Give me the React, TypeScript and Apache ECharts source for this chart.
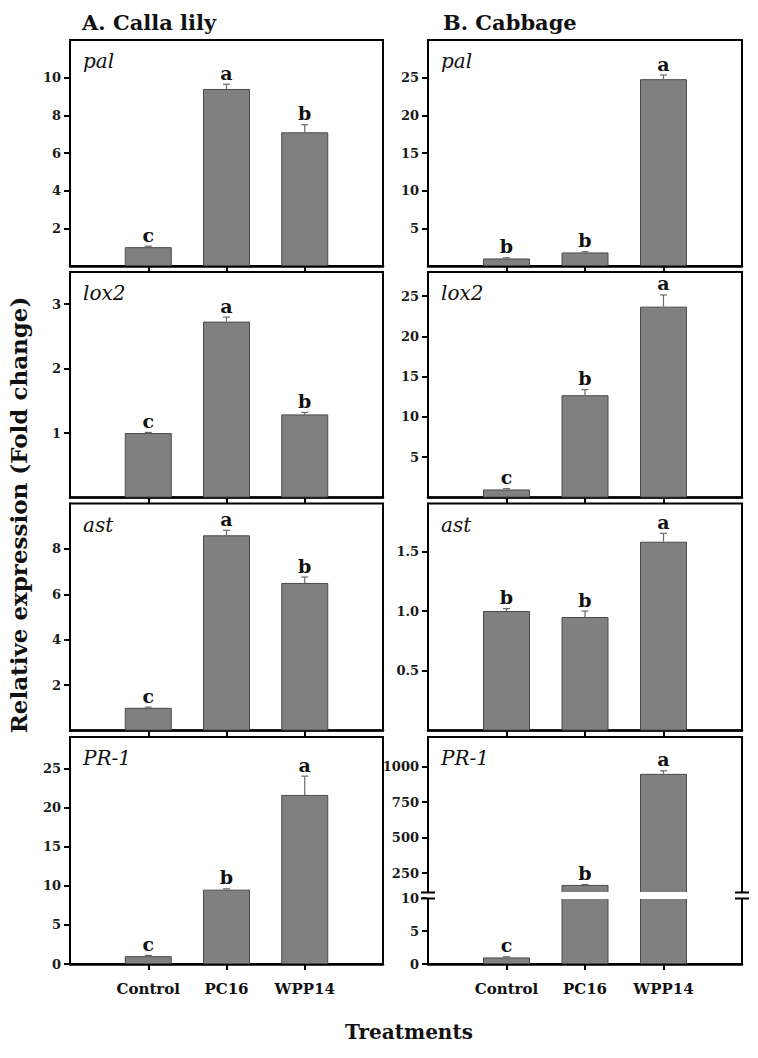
import React, { useEffect, useRef } from "react";
import * as echarts from "echarts";

// ---------- data ----------
const categories = ["Control", "PC16", "WPP14"];

const callaPalMean = [1.0, 9.4, 7.1];
const callaPalErr = [0.05, 0.25, 0.4];
const callaPalLetters = ["c", "a", "b"];
const callaPalTicks = [2, 4, 6, 8, 10];

const callaLoxMean = [1.0, 2.73, 1.29];
const callaLoxErr = [0.01, 0.07, 0.03];
const callaLoxLetters = ["c", "a", "b"];
const callaLoxTicks = [1, 2, 3];

const callaAstMean = [1.0, 8.6, 6.5];
const callaAstErr = [0.03, 0.22, 0.26];
const callaAstLetters = ["c", "a", "b"];
const callaAstTicks = [2, 4, 6, 8];

const callaPrMean = [1.0, 9.5, 21.6];
const callaPrErr = [0.1, 0.1, 2.4];
const callaPrLetters = ["c", "b", "a"];
const callaPrTicks = [0, 5, 10, 15, 20, 25];

const cabPalMean = [1.0, 1.8, 24.8];
const cabPalErr = [0.1, 0.1, 0.55];
const cabPalLetters = ["b", "b", "a"];
const cabPalTicks = [5, 10, 15, 20, 25];

const cabLoxMean = [1.0, 12.7, 23.7];
const cabLoxErr = [0.1, 0.7, 1.45];
const cabLoxLetters = ["c", "b", "a"];
const cabLoxTicks = [5, 10, 15, 20, 25];

const cabAstMean = [1.0, 0.95, 1.58];
const cabAstErr = [0.02, 0.05, 0.07];
const cabAstLetters = ["b", "b", "a"];
const cabAstTicks = [0.5, 1.0, 1.5];

const cabPrMean = [1.0, 167, 950];
const cabPrErr = [0.1, 3, 22];
const cabPrLetters = ["c", "b", "a"];
const cabPrLowTicks = [0, 5, 10];
const cabPrHighTicks = [250, 500, 750, 1000];

// ---------- layout ----------
const FONT = "DejaVu Serif";
const COLS = [
  { left: 70, width: 313 },
  { left: 428, width: 314 },
];
const ROWS = [
  { top: 40, bottom: 266 },
  { top: 272, bottom: 497.5 },
  { top: 503.5, bottom: 730.5 },
  { top: 737, bottom: 964 },
];
const BREAK_TOP = 893; // bottom of upper broken grid
const BREAK_BOTTOM = 898; // top of lower broken grid

function buildOption() {
  const grid: any[] = [];
  const xAxis: any[] = [];
  const yAxis: any[] = [];
  const series: any[] = [];
  const graphic: any[] = [];

  function addGrid(cfg: {
    left: number;
    top: number;
    width: number;
    height: number;
    showXLabels: boolean;
    showXAxis: boolean;
    min: number;
    max: number;
    ticks: number[];
    fmt?: (v: number) => string;
    mean: number[];
    err: number[];
    letters: string[];
  }) {
    const i = grid.length;
    grid.push({
      left: cfg.left,
      top: cfg.top,
      width: cfg.width,
      height: cfg.height,
      show: true,
      borderColor: "#000",
      borderWidth: 2,
      backgroundColor: "transparent",
    });
    xAxis.push({
      gridIndex: i,
      type: "value",
      min: 0,
      max: 4,
      axisLine: {
        show: cfg.showXAxis,
        onZero: false,
        lineStyle: { color: "#000", width: 2.5 },
      },
      axisTick: {
        show: cfg.showXAxis,
        customValues: [1, 2, 3],
        length: 6,
        lineStyle: { color: "#000", width: 2 },
      },
      axisLabel: {
        show: cfg.showXLabels,
        customValues: [1, 2, 3],
        formatter: (v: number) => categories[Math.round(v) - 1] ?? "",
        margin: 17,
        fontFamily: FONT,
        fontWeight: "bold",
        fontSize: 15,
        color: "#111",
      },
      splitLine: { show: false },
    });
    yAxis.push({
      gridIndex: i,
      type: "value",
      min: cfg.min,
      max: cfg.max,
      axisLine: { show: true, onZero: false, lineStyle: { color: "#000", width: 2 } },
      axisTick: {
        show: true,
        customValues: cfg.ticks,
        length: 6,
        lineStyle: { color: "#000", width: 2 },
      },
      axisLabel: {
        show: true,
        customValues: cfg.ticks,
        formatter: cfg.fmt ?? ((v: number) => String(v)),
        margin: 9,
        fontFamily: FONT,
        fontWeight: "bold",
        fontSize: 13,
        color: "#1a1a1a",
      },
      splitLine: { show: false },
    });
    series.push({
      type: "bar",
      xAxisIndex: i,
      yAxisIndex: i,
      barWidth: 47,
      clip: true,
      data: cfg.mean.map((v, k) => [k + 1, v]),
      itemStyle: { color: "#808080", borderColor: "#4a4a4a", borderWidth: 1 },
      z: 2,
    });
    const { min, max, letters } = cfg;
    series.push({
      type: "custom",
      xAxisIndex: i,
      yAxisIndex: i,
      z: 3,
      data: cfg.mean.map((v, k) => [k + 1, v, cfg.err[k]]),
      renderItem: (params: any, api: any) => {
        const k = params.dataIndex;
        const x = api.value(0);
        const v = api.value(1);
        const e = api.value(2);
        if (v < min || v + e > max) return null;
        const base = api.coord([x, v]);
        const top = api.coord([x, v + e]);
        return {
          type: "group",
          children: [
            {
              type: "line",
              shape: { x1: base[0], y1: base[1], x2: top[0], y2: top[1] },
              style: { stroke: "#6a6a6a", lineWidth: 1.2 },
            },
            {
              type: "line",
              shape: { x1: top[0] - 3.5, y1: top[1], x2: top[0] + 3.5, y2: top[1] },
              style: { stroke: "#6a6a6a", lineWidth: 1.2 },
            },
            {
              type: "text",
              x: top[0],
              y: top[1] - 2,
              style: {
                text: letters[k],
                align: "center",
                verticalAlign: "bottom",
                fontFamily: FONT,
                fontWeight: "bold",
                fontSize: 19,
                fill: "#111",
              },
            },
          ],
        };
      },
    });
    return i;
  }

  const panels = [
    { col: 0, row: 0, gene: "pal", max: 12, ticks: callaPalTicks, mean: callaPalMean, err: callaPalErr, letters: callaPalLetters },
    { col: 0, row: 1, gene: "lox2", max: 3.5, ticks: callaLoxTicks, mean: callaLoxMean, err: callaLoxErr, letters: callaLoxLetters },
    { col: 0, row: 2, gene: "ast", max: 10, ticks: callaAstTicks, mean: callaAstMean, err: callaAstErr, letters: callaAstLetters },
    { col: 0, row: 3, gene: "PR-1", max: 29, ticks: callaPrTicks, mean: callaPrMean, err: callaPrErr, letters: callaPrLetters },
    { col: 1, row: 0, gene: "pal", max: 30, ticks: cabPalTicks, mean: cabPalMean, err: cabPalErr, letters: cabPalLetters },
    { col: 1, row: 1, gene: "lox2", max: 28, ticks: cabLoxTicks, mean: cabLoxMean, err: cabLoxErr, letters: cabLoxLetters },
    { col: 1, row: 2, gene: "ast", max: 1.9, ticks: cabAstTicks, mean: cabAstMean, err: cabAstErr, letters: cabAstLetters, fmt: (v: number) => v.toFixed(1) },
  ];

  panels.forEach((p: any) => {
    const c = COLS[p.col];
    const r = ROWS[p.row];
    addGrid({
      left: c.left,
      top: r.top,
      width: c.width,
      height: r.bottom - r.top,
      showXLabels: p.row === 3,
      showXAxis: true,
      min: 0,
      max: p.max,
      ticks: p.ticks,
      fmt: p.fmt,
      mean: p.mean,
      err: p.err,
      letters: p.letters,
    });
  });

  // broken-axis panel (Cabbage PR-1)
  const c1 = COLS[1];
  const r3 = ROWS[3];
  addGrid({
    left: c1.left,
    top: r3.top,
    width: c1.width,
    height: BREAK_TOP - r3.top,
    showXLabels: false,
    showXAxis: false,
    min: 110,
    max: 1210,
    ticks: cabPrHighTicks,
    mean: cabPrMean,
    err: cabPrErr,
    letters: cabPrLetters,
  });
  addGrid({
    left: c1.left,
    top: BREAK_BOTTOM,
    width: c1.width,
    height: r3.bottom - BREAK_BOTTOM,
    showXLabels: true,
    showXAxis: true,
    min: 0,
    max: 10,
    ticks: cabPrLowTicks,
    mean: cabPrMean,
    err: cabPrErr,
    letters: cabPrLetters,
  });

  // white gap across broken panel
  graphic.push({
    type: "rect",
    z: 100,
    shape: { x: c1.left - 1.5, y: BREAK_TOP - 1, width: c1.width + 3, height: BREAK_BOTTOM - BREAK_TOP + 2 },
    style: { fill: "#fff" },
  });
  [c1.left, c1.left + c1.width].forEach((x) => {
    [BREAK_TOP - 0.5, BREAK_BOTTOM + 0.5].forEach((y) => {
      graphic.push({
        type: "line",
        z: 101,
        shape: { x1: x - 7, y1: y, x2: x + 7, y2: y },
        style: { stroke: "#000", lineWidth: 2 },
      });
    });
  });

  // gene labels
  const geneStyle = {
    fontFamily: FONT,
    fontStyle: "italic",
    fontSize: 20,
    fill: "#111",
    align: "left",
    verticalAlign: "middle",
  };
  panels.forEach((p: any) => {
    graphic.push({
      type: "text",
      z: 10,
      x: COLS[p.col].left + 13,
      y: ROWS[p.row].top + 21,
      style: { ...geneStyle, text: p.gene },
    });
  });
  graphic.push({
    type: "text",
    z: 10,
    x: COLS[1].left + 13,
    y: ROWS[3].top + 21,
    style: { ...geneStyle, text: "PR-1" },
  });

  // titles
  const titleStyle = { fontFamily: FONT, fontWeight: "bold", fontSize: 21, fill: "#111", verticalAlign: "middle" };
  graphic.push({ type: "text", x: 82, y: 22, style: { ...titleStyle, text: "A. Calla lily", align: "left" } });
  graphic.push({ type: "text", x: 443, y: 22, style: { ...titleStyle, text: "B. Cabbage", align: "left" } });
  graphic.push({
    type: "text",
    x: 409,
    y: 1032,
    style: { ...titleStyle, fontSize: 20, text: "Treatments", align: "center" },
  });
  graphic.push({
    type: "text",
    x: 18,
    y: 515,
    rotation: Math.PI / 2,
    style: { ...titleStyle, fontSize: 23, text: "Relative expression (Fold change)", align: "center" },
  });

  return {
    animation: false,
    backgroundColor: "#fff",
    grid,
    xAxis,
    yAxis,
    series,
    graphic,
  };
}

export default function App() {
  const ref = useRef<HTMLDivElement>(null);
  useEffect(() => {
    if (!ref.current) return;
    const chart = echarts.init(ref.current, undefined, { renderer: "svg" });
    chart.setOption(buildOption() as any);
    return () => chart.dispose();
  }, []);
  return (
    <div
      ref={ref}
      style={{ position: "fixed", left: 0, top: 0, width: 758, height: 1058, background: "#fff" }}
    />
  );
}
